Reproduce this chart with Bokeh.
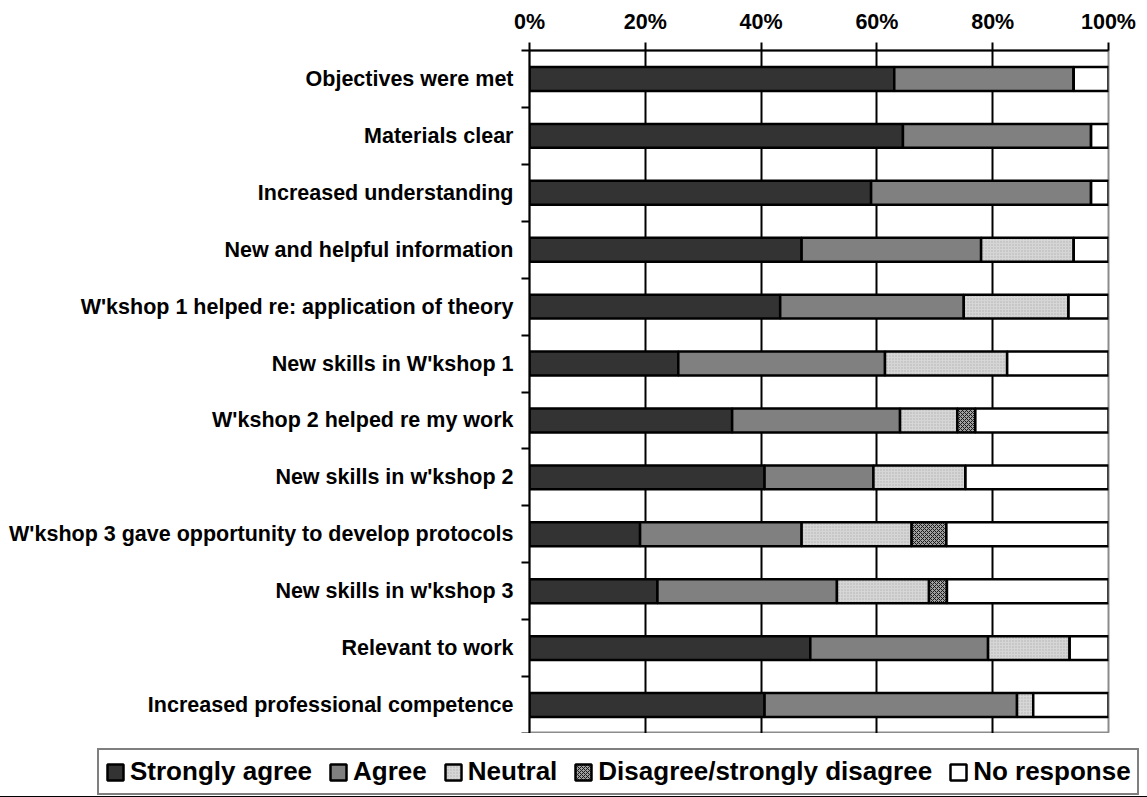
import numpy as np
from bokeh.plotting import figure
from bokeh.models import (ColumnDataSource, Range1d, FixedTicker, PrintfTickFormatter,
                          Legend, LegendItem)
from bokeh.embed import file_html
from bokeh.resources import INLINE

categories = [
    "Objectives were met",
    "Materials clear",
    "Increased understanding",
    "New and helpful information",
    "W'kshop 1 helped re: application of theory",
    "New skills in W'kshop 1",
    "W'kshop 2 helped re my work",
    "New skills in w'kshop 2",
    "W'kshop 3 gave opportunity to develop protocols",
    "New skills in w'kshop 3",
    "Relevant to work",
    "Increased professional competence",
]
strongly_agree = [63.0, 64.5, 59.0, 47.0, 43.3, 25.7, 35.0, 40.6, 19.1, 22.1, 48.5, 40.6]
agree          = [31.0, 32.5, 38.0, 31.0, 31.7, 35.7, 29.0, 18.8, 27.9, 31.0, 30.7, 43.6]
neutral        = [0.0, 0.0, 0.0, 16.0, 18.1, 21.1, 9.9, 15.9, 19.0, 15.9, 14.1, 2.8]
disagree       = [0.0, 0.0, 0.0, 0.0, 0.0, 0.0, 3.1, 0.0, 6.0, 3.1, 0.0, 0.0]
no_response    = [6.0, 3.0, 3.0, 6.0, 6.9, 17.5, 23.0, 24.7, 28.0, 27.9, 6.7, 13.0]
series_names = ["Strongly agree", "Agree", "Neutral", "Disagree/strongly disagree", "No response"]
x_ticks = [0, 20, 40, 60, 80, 100]

FONT = "Liberation Sans"
n = len(categories)
ypos = (n - 1 - np.arange(n)) + 0.5

keys = ["sa", "ag", "ne", "di", "nr"]
src = ColumnDataSource(dict(y=ypos, sa=strongly_agree, ag=agree, ne=neutral,
                            di=disagree, nr=no_response))

STYLE = dict(
    fill_color=["#333333", "#808080", "#d6d6d6", "#a0a0a0", "#ffffff"],
    hatch_pattern=[None, None, "dot", "diagonal_cross", None],
    hatch_color=["#333333", "#808080", "#b0b0b0", "#1a1a1a", "#ffffff"],
    hatch_scale=[6, 6, 3, 4, 6],
    hatch_weight=[1, 1, 1, 1, 1],
    line_color="black", line_width=2.5,
)

p = figure(width=1147, height=733, output_backend="svg", toolbar_location=None,
           x_range=Range1d(0, 100), y_range=Range1d(0, n),
           x_axis_location="above",
           min_border_left=529, min_border_right=39, min_border_top=50, min_border_bottom=0)
p.outline_line_color = "#8c8c8c"
p.outline_line_width = 2
p.background_fill_color = "white"
p.border_fill_color = "white"

renderers = p.hbar_stack(keys, y="y", height=0.42, source=src, **STYLE)

# x axis (top)
xa = p.xaxis[0]
xa.ticker = FixedTicker(ticks=x_ticks)
xa.formatter = PrintfTickFormatter(format="%d%%")
xa.major_label_text_font = FONT
xa.major_label_text_font_style = "bold"
xa.major_label_text_font_size = "21.5px"
xa.major_label_text_color = "black"
xa.major_label_standoff = 9
xa.axis_line_color = "black"
xa.axis_line_width = 2
xa.major_tick_line_color = "black"
xa.major_tick_line_width = 2
xa.major_tick_out = 8
xa.major_tick_in = 0
xa.minor_tick_line_color = None

# y axis (left)
ya = p.yaxis[0]
ya.ticker = FixedTicker(ticks=list(ypos), minor_ticks=list(range(n + 1)))
ya.major_label_overrides = {float(v): c for v, c in zip(ypos, categories)}
ya.major_label_text_font = FONT
ya.major_label_text_font_style = "bold"
ya.major_label_text_font_size = "21.5px"
ya.major_label_text_color = "black"
ya.major_label_standoff = 8
ya.axis_line_color = "black"
ya.axis_line_width = 2
ya.major_tick_line_color = None
ya.minor_tick_line_color = "black"
ya.minor_tick_line_width = 2
ya.minor_tick_out = 8
ya.minor_tick_in = 0

p.xgrid.ticker = FixedTicker(ticks=[20, 40, 60, 80])
p.xgrid.grid_line_color = "black"
p.xgrid.grid_line_width = 2
p.ygrid.grid_line_color = None

# legend strip below the chart (its bar renderers sit outside its visible range)
lg = figure(width=1147, height=64, output_backend="svg", toolbar_location=None,
            x_range=Range1d(0, 100), y_range=Range1d(1000, 1001),
            x_axis_location=None, y_axis_location=None,
            min_border_left=0, min_border_right=0, min_border_top=0, min_border_bottom=0)
lg.outline_line_color = None
lg.grid.grid_line_color = None
lg.background_fill_color = "white"
lg.border_fill_color = "white"
lg_renderers = lg.hbar_stack(keys, y="y", height=0.42, source=src, **STYLE)

legend = Legend(
    items=[LegendItem(label=name, renderers=[r]) for name, r in zip(series_names, lg_renderers)],
    orientation="horizontal",
    location=(97, 2),
    label_text_font=FONT, label_text_font_style="bold", label_text_font_size="26px",
    label_text_color="black", label_standoff=5,
    glyph_width=20, glyph_height=20, spacing=16, padding=6, margin=0,
    border_line_color="black", border_line_width=2,
    background_fill_color="white", background_fill_alpha=1.0,
)
lg.add_layout(legend, "center")

open("out.html", "w").write(file_html([p, lg], INLINE))
